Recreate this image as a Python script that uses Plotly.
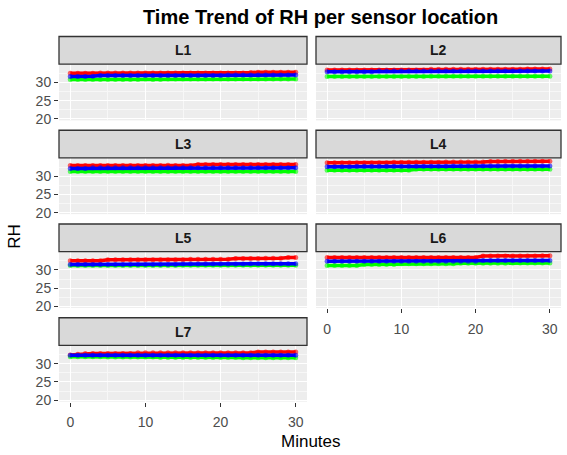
import plotly.graph_objects as go

# Minutes since start of logging
minutes = list(range(31))

# Relative humidity (%) per location, one list per sensor colour
L1_red = [32.5, 32.5, 32.5, 32.5, 32.6, 32.6, 32.6, 32.6, 32.6, 32.6, 32.6, 32.6, 32.6, 32.6, 32.6, 32.6,
          32.6, 32.6, 32.6, 32.6, 32.6, 32.6, 32.6, 32.6, 32.7, 32.8, 32.8, 32.8, 32.8, 32.8, 32.8]
L1_green = [30.8, 30.8, 30.8, 30.8, 30.8, 30.8, 30.8, 30.8, 30.8, 30.8, 30.9, 30.8, 30.8, 30.9, 30.9, 30.9,
            30.9, 30.9, 30.9, 30.9, 30.9, 30.9, 30.9, 30.9, 30.9, 30.9, 30.9, 30.9, 30.9, 30.9, 30.9]
L1_blue = [31.6, 31.6, 31.6, 31.7, 31.9, 31.9, 31.9, 31.9, 31.9, 31.9, 31.9, 31.9, 31.9, 31.9, 31.9, 31.9,
           31.9, 31.9, 31.9, 31.9, 31.9, 32.0, 32.0, 32.0, 32.0, 32.0, 32.0, 32.0, 32.0, 32.0, 32.0]

L2_red = [33.4, 33.4, 33.4, 33.4, 33.4, 33.4, 33.4, 33.4, 33.4, 33.4, 33.4, 33.4, 33.4, 33.4, 33.6, 33.6,
          33.6, 33.6, 33.6, 33.6, 33.6, 33.6, 33.6, 33.6, 33.6, 33.6, 33.6, 33.7, 33.7, 33.7, 33.7]
L2_green = [31.6, 31.6, 31.6, 31.6, 31.6, 31.6, 31.6, 31.6, 31.6, 31.6, 31.6, 31.6, 31.6, 31.6, 31.7, 31.7,
            31.7, 31.7, 31.7, 31.7, 31.7, 31.7, 31.7, 31.7, 31.7, 31.7, 31.7, 31.7, 31.7, 31.7, 31.7]
L2_blue = [32.9, 32.9, 32.9, 32.9, 32.9, 32.9, 32.9, 33.1, 33.1, 33.1, 33.1, 33.1, 33.1, 33.1, 33.1, 33.1,
           33.1, 33.1, 33.1, 33.1, 33.1, 33.1, 33.1, 33.1, 33.1, 33.1, 33.1, 33.1, 33.1, 33.1, 33.1]

L3_red = [32.9, 32.9, 32.9, 32.9, 32.9, 32.9, 32.9, 32.9, 32.9, 32.9, 32.9, 32.9, 32.9, 33.0, 32.9, 32.9,
          32.9, 33.2, 33.2, 33.2, 33.2, 33.2, 33.2, 33.2, 33.2, 33.2, 33.2, 33.2, 33.2, 33.2, 33.2]
L3_green = [31.3, 31.3, 31.3, 31.3, 31.3, 31.3, 31.3, 31.3, 31.3, 31.3, 31.3, 31.3, 31.3, 31.3, 31.3, 31.3,
            31.3, 31.3, 31.3, 31.3, 31.3, 31.3, 31.3, 31.3, 31.3, 31.3, 31.3, 31.3, 31.3, 31.3, 31.3]
L3_blue = [32.1, 32.1, 32.1, 32.3, 32.3, 32.3, 32.3, 32.3, 32.3, 32.3, 32.3, 32.3, 32.3, 32.3, 32.3, 32.3,
           32.3, 32.3, 32.3, 32.3, 32.3, 32.3, 32.3, 32.3, 32.3, 32.3, 32.3, 32.3, 32.3, 32.3, 32.3]

L4_red = [33.7, 33.7, 33.7, 33.7, 33.7, 33.7, 33.7, 33.7, 33.7, 33.8, 33.8, 33.8, 33.8, 33.8, 33.8, 33.8,
          33.9, 33.9, 33.9, 33.9, 33.9, 33.9, 34.0, 34.0, 34.1, 34.1, 34.1, 34.1, 34.1, 34.1, 34.1]
L4_green = [31.6, 31.6, 31.6, 31.6, 31.6, 31.6, 31.6, 31.6, 31.6, 31.6, 31.6, 31.6, 31.9, 31.9, 31.9, 31.9,
            31.9, 31.9, 31.9, 31.9, 31.9, 31.9, 31.9, 31.9, 31.9, 31.9, 31.9, 31.9, 31.9, 31.9, 31.9]
L4_blue = [32.6, 32.6, 32.6, 32.6, 32.7, 32.7, 32.7, 32.7, 32.7, 32.7, 32.7, 32.7, 32.7, 32.7, 32.7, 32.7,
           32.7, 32.8, 32.8, 32.8, 32.8, 32.8, 32.8, 32.8, 32.8, 32.8, 32.8, 32.8, 32.8, 32.8, 32.8]

L5_red = [32.5, 32.5, 32.5, 32.5, 32.5, 32.8, 32.8, 32.8, 32.8, 32.8, 32.8, 32.8, 32.8, 32.8, 32.8, 32.8,
          32.9, 32.9, 32.9, 32.9, 32.9, 32.9, 33.1, 33.1, 33.1, 33.1, 33.2, 33.2, 33.2, 33.4, 33.4]
L5_green = [31.2, 31.2, 31.2, 31.2, 31.2, 31.2, 31.2, 31.2, 31.2, 31.2, 31.2, 31.2, 31.2, 31.2, 31.2, 31.3,
            31.3, 31.3, 31.3, 31.3, 31.3, 31.3, 31.3, 31.3, 31.3, 31.3, 31.3, 31.3, 31.3, 31.3, 31.3]
L5_blue = [31.5, 31.5, 31.5, 31.5, 31.5, 31.5, 31.5, 31.5, 31.5, 31.5, 31.5, 31.5, 31.5, 31.5, 31.5, 31.6,
           31.6, 31.6, 31.6, 31.6, 31.6, 31.6, 31.6, 31.6, 31.7, 31.7, 31.7, 31.7, 31.7, 31.7, 31.7]

L6_red = [33.4, 33.4, 33.4, 33.4, 33.4, 33.4, 33.4, 33.4, 33.4, 33.4, 33.4, 33.4, 33.4, 33.4, 33.4, 33.4,
          33.4, 33.4, 33.4, 33.4, 33.4, 33.8, 33.8, 33.8, 33.8, 33.8, 33.8, 33.8, 33.8, 33.9, 33.9]
L6_green = [31.2, 31.2, 31.2, 31.2, 31.2, 31.5, 31.5, 31.5, 31.5, 31.5, 31.7, 31.7, 31.7, 31.7, 31.7, 31.7,
            31.7, 31.7, 31.8, 31.8, 31.8, 31.8, 31.8, 31.8, 31.8, 31.9, 31.9, 31.9, 31.9, 31.9, 31.9]
L6_blue = [32.4, 32.4, 32.4, 32.4, 32.4, 32.4, 32.4, 32.4, 32.4, 32.4, 32.4, 32.4, 32.4, 32.4, 32.4, 32.4,
           32.4, 32.4, 32.4, 32.4, 32.4, 32.6, 32.6, 32.6, 32.6, 32.6, 32.6, 32.6, 32.6, 32.6, 32.6]

L7_red = [32.4, 32.6, 32.8, 32.8, 32.8, 32.8, 32.8, 32.8, 32.8, 33.0, 33.0, 33.0, 33.0, 33.0, 33.0, 33.0,
          33.0, 33.0, 33.0, 33.0, 33.0, 33.0, 33.0, 33.0, 33.0, 33.2, 33.2, 33.2, 33.2, 33.2, 33.2]
L7_green = [31.9, 31.9, 31.9, 31.9, 31.9, 31.8, 31.8, 31.8, 31.8, 31.8, 31.8, 31.8, 31.7, 31.7, 31.7, 31.7,
            31.7, 31.7, 31.7, 31.7, 31.7, 31.7, 31.7, 31.6, 31.6, 31.6, 31.6, 31.6, 31.6, 31.6, 31.6]
L7_blue = [32.3, 32.3, 32.3, 32.3, 32.3, 32.3, 32.3, 32.3, 32.3, 32.3, 32.3, 32.3, 32.3, 32.3, 32.3, 32.3,
           32.3, 32.3, 32.3, 32.3, 32.3, 32.3, 32.3, 32.3, 32.3, 32.3, 32.3, 32.3, 32.3, 32.3, 32.3]

locations = ["L1", "L2", "L3", "L4", "L5", "L6", "L7"]
series = {
    "L1": (L1_red, L1_green, L1_blue),
    "L2": (L2_red, L2_green, L2_blue),
    "L3": (L3_red, L3_green, L3_blue),
    "L4": (L4_red, L4_green, L4_blue),
    "L5": (L5_red, L5_green, L5_blue),
    "L6": (L6_red, L6_green, L6_blue),
    "L7": (L7_red, L7_green, L7_blue),
}
colours = ["#FF0000", "#00FF00", "#0000FF"]
y_ticks = [20, 25, 30]
x_ticks = [0, 10, 20, 30]

W, H = 567, 455
col_px = [(59, 307), (316, 561)]
row_top_px = [65, 160, 255, 350]
panel_h = 57
strip_h = 28

FONT = "Liberation Sans, Arial, sans-serif"

fig = go.Figure()
layout = dict(
    width=W, height=H,
    margin=dict(l=0, r=0, t=0, b=0),
    paper_bgcolor="white",
    plot_bgcolor="#EDEDED",
    showlegend=False,
    font=dict(family=FONT, color="#4D4D4D", size=14),
)
shapes = []
annotations = []

for i, loc in enumerate(locations):
    r, c = divmod(i, 2)
    n = i + 1
    xa = "x" if n == 1 else f"x{n}"
    ya = "y" if n == 1 else f"y{n}"
    x0, x1 = col_px[c]
    top = row_top_px[r]
    bottom = top + panel_h
    # panels at the bottom of each column carry the x axis; the left column carries the y axis
    show_x = loc in ("L6", "L7")
    show_y = c == 0

    layout["xaxis" if n == 1 else f"xaxis{n}"] = dict(
        domain=[x0 / W, x1 / W], anchor=ya, range=[-1.5, 31.5],
        tickvals=x_ticks, showticklabels=show_x,
        ticks="outside" if show_x else "", ticklen=4, tickcolor="#333333", tickwidth=1,
        ticklabelstandoff=4,
        showgrid=True, gridcolor="white", gridwidth=1.3,
        minor=dict(dtick=5, tick0=0, showgrid=True, gridcolor="#F7F7F7", gridwidth=0.6, ticks=""),
        zeroline=False, showline=False,
        tickfont=dict(size=14, color="#4D4D4D", family=FONT),
    )
    layout["yaxis" if n == 1 else f"yaxis{n}"] = dict(
        domain=[1 - bottom / H, 1 - top / H], anchor=xa, range=[19.6, 35.0],
        tickvals=y_ticks, showticklabels=show_y,
        ticks="outside" if show_y else "", ticklen=4, tickcolor="#333333", tickwidth=1,
        showgrid=True, gridcolor="white", gridwidth=1.3,
        minor=dict(dtick=2.5, tick0=0, showgrid=True, gridcolor="#F7F7F7", gridwidth=0.6, ticks=""),
        zeroline=False, showline=False,
        tickfont=dict(size=14, color="#4D4D4D", family=FONT),
    )

    for vals, col in zip(series[loc], colours):
        fig.add_trace(go.Scatter(
            x=minutes, y=vals, xaxis=xa, yaxis=ya, mode="lines+markers",
            line=dict(color=col, width=3.5),
            marker=dict(color=col, size=5, opacity=0.6),
            hoverinfo="x+y",
        ))

    # facet strip
    shapes.append(dict(
        type="rect", xref="paper", yref="paper",
        x0=x0 / W, x1=x1 / W, y0=1 - top / H, y1=1 - (top - strip_h) / H,
        fillcolor="#D9D9D9", line=dict(color="#333333", width=1.3), layer="above",
    ))
    annotations.append(dict(
        x=(x0 + x1) / 2 / W, y=1 - (top - strip_h / 2) / H, xref="paper", yref="paper",
        text=f"<b>{loc}</b>", showarrow=False, xanchor="center", yanchor="middle",
        font=dict(size=14, color="#1A1A1A", family=FONT),
    ))

annotations += [
    dict(x=320 / W, y=1 - 17 / H, xref="paper", yref="paper",
         text="<b>Time Trend of RH per sensor location</b>", showarrow=False,
         xanchor="center", yanchor="middle", font=dict(size=20, color="black", family=FONT)),
    dict(x=311 / W, y=1 - 447 / H, xref="paper", yref="paper", text="Minutes", showarrow=False,
         xanchor="center", yanchor="middle", font=dict(size=17, color="black", family=FONT)),
    dict(x=15 / W, y=1 - 240 / H, xref="paper", yref="paper", text="RH", showarrow=False,
         textangle=-90, xanchor="center", yanchor="middle", font=dict(size=17, color="black", family=FONT)),
]
layout["shapes"] = shapes
layout["annotations"] = annotations
fig.update_layout(**layout)
fig.write_html("out.html")
